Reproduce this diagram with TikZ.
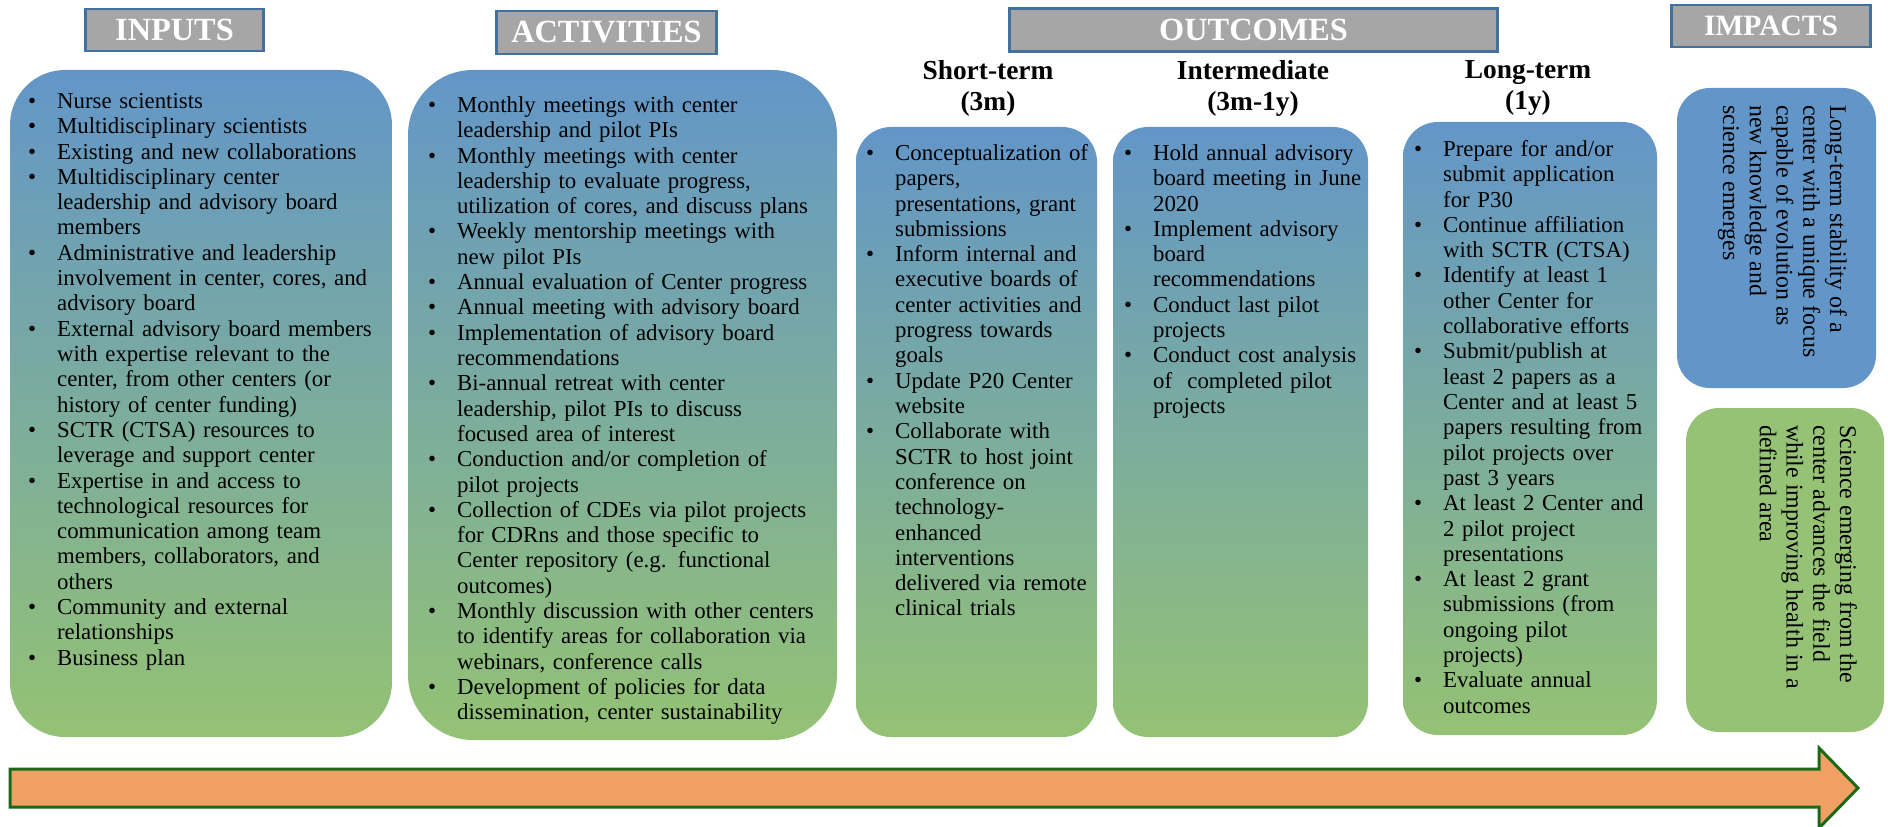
\documentclass[tikz,border=0pt]{standalone}
\usepackage{fontspec}
\setmainfont{Liberation Serif}
\usepackage{enumitem}
\setlist[itemize]{label=\textbullet, leftmargin=14.5mm, labelwidth=14.5mm, labelsep=0pt,
  align=left, topsep=0pt, partopsep=0pt, itemsep=0pt, parsep=0pt}

\begin{document}
\begin{tikzpicture}[
    x=0.5mm, y=-0.5mm,
    every node/.style={inner sep=0pt},
    hdr/.style={
        draw=hdrline,
        line width=1.25mm,
        fill=hdrgray,
        text=white,
        font=\fontsize{46}{50}\selectfont\bfseries
    },
    term/.style={anchor=north, align=center, font=\fontsize{39}{45}\selectfont\bfseries},
    colbox/.style={top color=boxtop, bottom color=boxbot},
    items/.style={anchor=north west, text width=240mm, align=left, font=\fontsize{32.5}{36}\selectfont},
    vtext/.style={anchor=north west, rotate=-90, align=left, font=\fontsize{34}{38}\selectfont}
]

% 색
\definecolor{hdrgray}{RGB}{166,166,166}
\definecolor{hdrline}{RGB}{65,113,156}
\definecolor{boxtop}{RGB}{99,150,200}
\definecolor{boxbot}{RGB}{148,194,116}
\definecolor{impblue}{RGB}{99,150,200}
\definecolor{impgreen}{RGB}{150,194,118}
\definecolor{arroworange}{RGB}{241,160,100}
\definecolor{arrowline}{RGB}{25,105,25}

\useasboundingbox (0,0) rectangle (1888,827);

% 제목 상자
\node[hdr, minimum width=89mm, minimum height=21mm] (inputs) at (174.5,30) {INPUTS};
\node[hdr, minimum width=110mm, minimum height=21.5mm] (activities) at (606.5,32.5) {ACTIVITIES};
\node[hdr, minimum width=244mm, minimum height=21.5mm] (outcomes) at (1253.5,30) {OUTCOMES};
\node[hdr, minimum width=99.5mm, minimum height=21mm, font=\fontsize{42}{46}\selectfont\bfseries] (impacts) at (1771,26) {IMPACTS};

\node[term] (short) at (988,60) {Short-term\\(3m)};
\node[term] (inter) at (1253,60) {Intermediate\\(3m-1y)};
\node[term] (long) at (1528,60) {Long-term\\(1y)};

% 내용 상자
\path[colbox, rounded corners=27.5mm] (10,70) rectangle (392,737);
\path[colbox, rounded corners=32.5mm] (408,70) rectangle (837,740);
\path[colbox, rounded corners=17.5mm] (856,127) rectangle (1097,737);
\path[colbox, rounded corners=17.5mm] (1113,127) rectangle (1368,737);
\path[colbox, rounded corners=17.5mm] (1403,122) rectangle (1657,735);

\path[fill=impblue, rounded corners=16.5mm] (1677,88) rectangle (1876,388);
\path[fill=impgreen, rounded corners=16.5mm] (1686,408) rectangle (1884,732);

% 목록
\node[items] (inlist) at (28,83) {\begin{itemize}
\item Nurse scientists
\item Multidisciplinary scientists
\item Existing and new collaborations
\item Multidisciplinary center\\leadership and advisory board\\members
\item Administrative and leadership\\involvement in center, cores, and\\advisory board
\item External advisory board members\\with expertise relevant to the\\center, from other centers (or\\history of center funding)
\item SCTR (CTSA) resources to\\leverage and support center
\item Expertise in and access to\\technological resources for\\communication among team\\members, collaborators, and\\others
\item Community and external\\relationships
\item Business plan
\end{itemize}};

\node[items] (actlist) at (428,87) {\begin{itemize}
\item Monthly meetings with center\\leadership and pilot PIs
\item Monthly meetings with center\\leadership to evaluate progress,\\utilization of cores, and discuss plans
\item Weekly mentorship meetings with\\new pilot PIs
\item Annual evaluation of Center progress
\item Annual meeting with advisory board
\item Implementation of advisory board\\recommendations
\item Bi-annual retreat with center\\leadership, pilot PIs to discuss\\focused area of interest
\item Conduction and/or completion of\\pilot projects
\item Collection of CDEs via pilot projects\\for CDRns and those specific to\\Center repository (e.g. functional\\outcomes)
\item Monthly discussion with other centers\\to identify areas for collaboration via\\webinars, conference calls
\item Development of policies for data\\dissemination, center sustainability
\end{itemize}};

\node[items] (shortlist) at (866,135) {\begin{itemize}
\item Conceptualization of\\papers,\\presentations, grant\\submissions
\item Inform internal and\\executive boards of\\center activities and\\progress towards\\goals
\item Update P20 Center\\website
\item Collaborate with\\SCTR to host joint\\conference on\\technology-\\enhanced\\interventions\\delivered via remote\\clinical trials
\end{itemize}};

\node[items] (interlist) at (1124,135) {\begin{itemize}
\item Hold annual advisory\\board meeting in June\\2020
\item Implement advisory\\board\\recommendations
\item Conduct last pilot\\projects
\item Conduct cost analysis\\of~ completed pilot\\projects
\end{itemize}};

\node[items] (longlist) at (1414,131) {\begin{itemize}
\item Prepare for and/or\\submit application\\for P30
\item Continue affiliation\\with SCTR (CTSA)
\item Identify at least 1\\other Center for\\collaborative efforts
\item Submit/publish at\\least 2 papers as a\\Center and at least 5\\papers resulting from\\pilot projects over\\past 3 years
\item At least 2 Center and\\2 pilot project\\presentations
\item At least 2 grant\\submissions (from\\ongoing pilot\\projects)
\item Evaluate annual\\outcomes
\end{itemize}};

\node[vtext] (impA) at (1847,105) {Long-term stability of a\\center with a unique focus\\capable of evolution as\\new knowledge and\\science emerges};
\node[vtext] (impB) at (1857,425) {Science emerging from the\\center advances the field\\while improving health in a\\defined area};

% 하단 화살표
\draw[draw=arrowline, fill=arroworange, line width=1.5mm]
    (10,769) -- (1819,769) -- (1819,748) -- (1858,788) -- (1819,828) -- (1819,807) -- (10,807) -- cycle;

\end{tikzpicture}
\end{document}
